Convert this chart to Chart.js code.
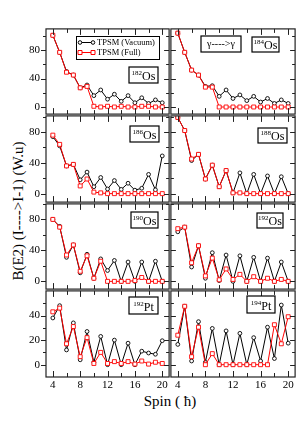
<!DOCTYPE html>
<html>
<head>
<meta charset="utf-8">
<script src="https://cdn.jsdelivr.net/npm/chart.js@4.4.1/dist/chart.umd.min.js"></script>
<style>
  body { margin: 0; background: #fff; }
  #fig { position: relative; width: 299px; height: 423px; overflow: hidden; font-family: "Liberation Serif", serif; color: #000; }
  #fig canvas { position: absolute; }
  .ytitle { position: absolute; left: 18px; top: 211px; transform: translate(-50%, -50%) rotate(-90deg); white-space: nowrap; font-size: 15px; }
  .xtitle { position: absolute; left: 170px; top: 401px; transform: translate(-50%, -50%); white-space: nowrap; font-size: 15px; }
</style>
</head>
<body>
<div id="fig">
  <div class="ytitle">B(E2) (I----&gt;I-1) (W.u)</div>
  <div class="xtitle">Spin ( &#295;)</div>
</div>
<script>
// spin values and B(E2) values
var spin = [4, 5, 6, 7, 8, 9, 10, 11, 12, 13, 14, 15, 16, 17, 18, 19, 20];

var os182Vac  = [101, 77, 50, 45, 27, 31, 16, 24, 11, 18, 8, 16, 6, 13, 5, 10, 6];
var os182Full = [101, 77, 49, 45, 27, 29, 1, 0, 1, 0, 1, 0, 0, 1, 1, 0, 0];
var os184Vac  = [104, 77, 52, 45, 29, 30, 15, 24, 12, 17, 9, 15, 7, 12, 5, 10, 5];
var os184Full = [104, 77, 52, 45, 28, 28, 0, 0, 0, 0, 0, 0, 0, 0, 0, 0, 0];
var os186Vac  = [74, 62, 36, 38, 18, 28, 9, 21, 6, 17, 5.5, 13.5, 4.5, 7, 25, 5, 49];
var os186Full = [76, 64, 36, 38, 10, 19, 2, 1, 0, 0, 0, 0, 0, 0, 0, 0, 0];
var os188Vac  = [99, 82, 43, 51, 19, 37, 9, 30, 1, 27, 0, 25, 0, 23, 0, 22, 0];
var os188Full = [99, 82, 45, 51, 19, 37, 9, 30, 1, 1, 0, 0, 0, 0, 0, 0, 0];
var os190Vac  = [80, 71, 31, 47, 11, 35, 4, 29, 14, 27, 0, 25, 0, 25, 0, 26, 0];
var os190Full = [80, 70, 34, 47, 13, 33, 4, 26, 0, 0, 0, 0, 1, 5, 0, 0, 0];
var os192Vac  = [64, 70, 18.5, 46, 4, 37, 1, 34, 0, 33, 0, 31, 0, 30, 0, 25, 0];
var os192Full = [68, 70, 24, 46, 7, 30, 2, 16, 2.5, 9, 0, 6, 0, 4, 0, 2.5, 0];
var pt192Vac  = [38, 48, 12, 34, 4, 27, 2, 23, 0, 20, 0, 17.5, 0, 11, 9.5, 8.5, 19.5];
var pt192Full = [43, 46, 17, 31, 6.5, 22, 1, 10, 1, 2.5, 1, 2.5, 0.5, 3, 0.5, 2, 1];
var pt194Vac  = [16.5, 47.5, 3, 35, 2, 29.5, 0, 27.5, 0, 25.5, 0, 22, 3, 30.5, 5, 48.5, 17.5];
var pt194Full = [24, 47.5, 6.5, 30.5, 0, 9, 0, 0, 0, 0, 0, 0, 0, 0, 32.5, 17, 39];

var seriesNames = ['TPSM (Vacuum)', 'TPSM (Full)'];

// tick values
var xTicks = [4, 8, 12, 16, 20];
var xMinor = [4, 6, 8, 10, 12, 14, 16, 18, 20];
var yTicksOs = [0, 40, 80];
var yMinorOs = [0, 20, 40, 60, 80, 100];
var yTicksPt = [0, 20, 40];
var yMinorPt = [0, 10, 20, 30, 40, 50];

var FONT = '"Liberation Serif", "Times New Roman", serif';
var rows = [28, 115, 203, 290, 377];
var cols = [[46, 170], [170, 296]];
var PAD = 4, XLAB = 20;

var panels = [
  { mass: '182', el: 'Os', vac: os182Vac, full: os182Full, yMin: -10, yMax: 110, tag: [129, 67, 29, 16], legend: true },
  { mass: '184', el: 'Os', vac: os184Vac, full: os184Full, yMin: -10, yMax: 110, tag: [252, 37, 27, 15], gamma: true },
  { mass: '186', el: 'Os', vac: os186Vac, full: os186Full, yMin: -11, yMax: 101, tag: [130, 126, 29, 16] },
  { mass: '188', el: 'Os', vac: os188Vac, full: os188Full, yMin: -11, yMax: 101, tag: [258, 128, 29, 15] },
  { mass: '190', el: 'Os', vac: os190Vac, full: os190Full, yMin: -10, yMax: 100, tag: [131, 212, 27, 16] },
  { mass: '192', el: 'Os', vac: os192Vac, full: os192Full, yMin: -10, yMax: 100, tag: [257, 213, 26, 15] },
  { mass: '192', el: 'Pt', vac: pt192Vac, full: pt192Full, yMin: -10, yMax: 60, tag: [129, 297, 29, 17] },
  { mass: '194', el: 'Pt', vac: pt194Vac, full: pt194Full, yMin: -10, yMax: 60, tag: [247, 296, 28, 17] }
];

function drawTag(ctx, x, y, w, h, sup, main) {
  ctx.fillStyle = '#fff';
  ctx.fillRect(x, y, w, h);
  ctx.strokeStyle = '#000';
  ctx.lineWidth = 1.2;
  ctx.strokeRect(x, y, w, h);
  ctx.fillStyle = '#000';
  ctx.textBaseline = 'alphabetic';
  ctx.textAlign = 'left';
  ctx.font = '7px ' + FONT;
  var sw = ctx.measureText(sup).width;
  ctx.font = '12px ' + FONT;
  var mw = ctx.measureText(main).width;
  var x0 = x + (w - sw - mw) / 2;
  ctx.font = '7px ' + FONT;
  ctx.fillText(sup, x0, y + h - 8);
  ctx.font = '12px ' + FONT;
  ctx.fillText(main, x0 + sw, y + h - 3);
}

var decor = {
  id: 'decor',
  afterDraw: function(chart, args, opts) {
    var ctx = chart.ctx, a = chart.chartArea;
    var xs = chart.scales.x, ys = chart.scales.y;
    ctx.save();
    ctx.strokeStyle = '#222';
    ctx.lineWidth = 1.2;
    ctx.strokeRect(a.left, a.top, a.right - a.left, a.bottom - a.top);

    ctx.lineWidth = 1;
    ctx.beginPath();
    xMinor.forEach(function(v) {
      var len = xTicks.indexOf(v) >= 0 ? 6 : 4;
      var px = Math.round(xs.getPixelForValue(v)) + 0.5;
      ctx.moveTo(px, a.top); ctx.lineTo(px, a.top + len);
      ctx.moveTo(px, a.bottom); ctx.lineTo(px, a.bottom - len);
    });
    opts.yMinor.forEach(function(v) {
      var len = opts.yTicks.indexOf(v) >= 0 ? 5 : 3;
      var py = Math.round(ys.getPixelForValue(v)) + 0.5;
      var dir = opts.col === 0 ? -1 : 1;
      ctx.moveTo(a.left, py); ctx.lineTo(a.left + dir * len, py);
      ctx.moveTo(a.right, py); ctx.lineTo(a.right - len, py);
    });
    ctx.stroke();

    var p = opts.panel;
    drawTag(ctx, p.tag[0] - opts.ox, p.tag[1] - opts.oy, p.tag[2], p.tag[3], p.mass, p.el);

    if (p.gamma) {
      var gx = 201 - opts.ox, gy = 36 - opts.oy;
      ctx.fillStyle = '#fff';
      ctx.fillRect(gx, gy, 40, 16);
      ctx.strokeStyle = '#000';
      ctx.lineWidth = 1.2;
      ctx.strokeRect(gx, gy, 40, 16);
      ctx.fillStyle = '#000';
      ctx.font = '10px ' + FONT;
      ctx.textAlign = 'center';
      ctx.textBaseline = 'middle';
      ctx.fillText('\u03b3---->\u03b3', gx + 20, gy + 8);
    }

    if (p.legend) {
      var lx = 76 - opts.ox, ly = 36 - opts.oy;
      ctx.fillStyle = '#fff';
      ctx.fillRect(lx, ly, 83, 23);
      ctx.strokeStyle = '#000';
      ctx.lineWidth = 1;
      ctx.strokeRect(lx + 0.5, ly + 0.5, 83, 23);
      chart.data.datasets.forEach(function(ds, i) {
        var yy = ly + 6.5 + i * 10;
        ctx.strokeStyle = ds.borderColor;
        ctx.lineWidth = 1;
        ctx.beginPath();
        ctx.moveTo(lx + 4, yy); ctx.lineTo(lx + 17, yy);
        ctx.stroke();
        [lx + 4, lx + 17].forEach(function(mx) {
          ctx.beginPath();
          if (ds.pointStyle === 'rect') ctx.rect(mx - 2, yy - 2, 4, 4);
          else ctx.arc(mx, yy, 1.8, 0, Math.PI * 2);
          ctx.fillStyle = '#fff';
          ctx.fill();
          ctx.stroke();
        });
        ctx.fillStyle = '#000';
        ctx.font = '8.5px ' + FONT;
        ctx.textAlign = 'left';
        ctx.textBaseline = 'middle';
        ctx.fillText(ds.label, lx + 21, yy + 0.5);
      });
    }
    ctx.restore();
  }
};

var fig = document.getElementById('fig');

panels.forEach(function(p, idx) {
  var col = idx % 2, row = Math.floor(idx / 2);
  var isPt = p.el === 'Pt';
  var showX = row === 3, showY = col === 0;
  var left = col === 0 ? 0 : cols[col][0] - PAD;
  var top = rows[row] - PAD;
  var width = cols[col][1] + PAD - left;
  var height = rows[row + 1] + (showX ? XLAB : PAD) - top;

  var cv = document.createElement('canvas');
  cv.width = width;
  cv.height = height;
  cv.style.left = left + 'px';
  cv.style.top = top + 'px';
  cv.style.width = width + 'px';
  cv.style.height = height + 'px';
  fig.appendChild(cv);

  var yTicks = isPt ? yTicksPt : yTicksOs;

  new Chart(cv.getContext('2d'), {
    type: 'line',
    data: {
      labels: spin,
      datasets: [
        {
          label: seriesNames[0],
          data: p.vac,
          borderColor: '#000',
          backgroundColor: '#fff',
          borderWidth: 1,
          pointStyle: 'circle',
          pointRadius: 1.9,
          pointBorderWidth: 0.9,
          pointBackgroundColor: '#fff',
          pointBorderColor: '#000',
          tension: 0,
          order: 1
        },
        {
          label: seriesNames[1],
          data: p.full,
          borderColor: '#ff0000',
          backgroundColor: '#fff',
          borderWidth: 1,
          pointStyle: 'rect',
          pointRadius: 2.8,
          pointBorderWidth: 0.9,
          pointBackgroundColor: '#fff',
          pointBorderColor: '#ff0000',
          tension: 0,
          order: 0
        }
      ]
    },
    options: {
      responsive: false,
      animation: false,
      events: [],
      layout: {
        padding: { left: showY ? 0 : PAD, right: PAD, top: PAD, bottom: showX ? 0 : PAD }
      },
      plugins: {
        legend: { display: false },
        tooltip: { enabled: false },
        decor: { panel: p, col: col, ox: left, oy: top, yTicks: yTicks, yMinor: isPt ? yMinorPt : yMinorOs }
      },
      scales: {
        x: {
          type: 'linear',
          min: 3,
          max: 21,
          display: showX,
          grid: { display: false, drawTicks: false },
          border: { display: false },
          ticks: { padding: 2, color: '#000', font: { family: FONT, size: 11 } },
          afterBuildTicks: function(scale) {
            scale.ticks = xTicks.map(function(v) { return { value: v }; });
          },
          afterFit: function(scale) {
            if (!showX) return;
            scale.height = XLAB;
            scale.paddingLeft = 0;
            scale.paddingRight = 0;
          }
        },
        y: {
          min: p.yMin,
          max: p.yMax,
          display: showY,
          grid: { display: false, drawTicks: false },
          border: { display: false },
          ticks: { padding: 6, color: '#000', font: { family: FONT, size: 11 } },
          afterBuildTicks: function(scale) {
            scale.ticks = yTicks.map(function(v) { return { value: v }; });
          },
          afterFit: function(scale) {
            if (!showY) return;
            scale.width = 46;
            scale.paddingTop = 0;
            scale.paddingBottom = 0;
          }
        }
      }
    },
    plugins: [decor]
  });
});
</script>
</body>
</html>
